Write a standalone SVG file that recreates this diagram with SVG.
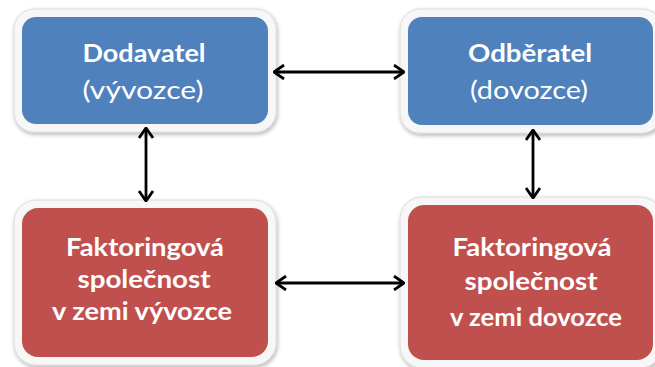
<svg xmlns="http://www.w3.org/2000/svg" width="655" height="367" viewBox="0 0 655 367">
  <style>
    .frame { fill: #f7f7f7; stroke: #dcdcdc; stroke-width: 1; filter: url(#shadow); }
    .blue { fill: #4f81bd; }
    .red { fill: #c0504d; }
    .label { font-family: Lato, "Open Sans", "Liberation Sans", sans-serif; fill: #ffffff; text-anchor: middle; font-size: 25px; }
    .bold { font-weight: bold; }
    .conn { stroke: #000000; stroke-width: 2.8; fill: none; marker-start: url(#head); marker-end: url(#head); }
  </style>
  <defs>
    <filter id="shadow" x="-10%" y="-10%" width="120%" height="130%">
      <feDropShadow dx="1" dy="2" stdDeviation="2" flood-color="#000000" flood-opacity="0.3"/>
    </filter>
    <marker id="head" viewBox="0 0 12 16" refX="11" refY="8" markerWidth="12" markerHeight="16" markerUnits="userSpaceOnUse" orient="auto-start-reverse">
      <path d="M1,1 L11,8 L1,15" fill="none" stroke="#000000" stroke-width="2.8" stroke-linejoin="miter"/>
    </marker>
  </defs>

  <!-- exporter -->
  <g id="dodavatel">
    <rect class="frame" x="14" y="9" width="262" height="123" rx="20"/>
    <rect class="blue" x="22" y="17" width="246" height="107" rx="14"/>
    <text class="label bold" x="144" y="62" textLength="123" lengthAdjust="spacingAndGlyphs">Dodavatel</text>
    <text class="label" x="143" y="99" textLength="121" lengthAdjust="spacingAndGlyphs">(vývozce)</text>
  </g>

  <!-- importer -->
  <g id="odberatel">
    <rect class="frame" x="400" y="9" width="262" height="124" rx="20"/>
    <rect class="blue" x="408" y="17" width="245" height="108" rx="14"/>
    <text class="label bold" x="530" y="62" textLength="124" lengthAdjust="spacingAndGlyphs">Odběratel</text>
    <text class="label" x="529" y="99" textLength="118" lengthAdjust="spacingAndGlyphs">(dovozce)</text>
  </g>

  <!-- factor in the exporter's country -->
  <g id="faktor-vyvozce">
    <rect class="frame" x="14" y="200" width="262" height="165" rx="22"/>
    <rect class="red" x="22" y="208" width="246" height="149" rx="16"/>
    <text class="label bold" x="145" y="256" textLength="158" lengthAdjust="spacingAndGlyphs">Faktoringová</text>
    <text class="label bold" x="144" y="288" textLength="133" lengthAdjust="spacingAndGlyphs">společnost</text>
    <text class="label bold" x="142" y="320" textLength="180" lengthAdjust="spacingAndGlyphs">v zemi vývozce</text>
  </g>

  <!-- factor in the importer's country -->
  <g id="faktor-dovozce">
    <rect class="frame" x="400" y="197" width="262" height="171" rx="22"/>
    <rect class="red" x="408" y="205" width="245" height="155" rx="16"/>
    <text class="label bold" x="532" y="256" textLength="159" lengthAdjust="spacingAndGlyphs">Faktoringová</text>
    <text class="label bold" x="531" y="290" textLength="133" lengthAdjust="spacingAndGlyphs">společnost</text>
    <text class="label bold" x="536" y="326" textLength="172" lengthAdjust="spacingAndGlyphs">v zemi dovozce</text>
  </g>

  <g id="connectors">
    <line class="conn" x1="274" y1="72" x2="404" y2="72"/>
    <line class="conn" x1="146" y1="128" x2="146" y2="201"/>
    <line class="conn" x1="533" y1="130" x2="533" y2="198"/>
    <line class="conn" x1="276" y1="283" x2="404" y2="283"/>
  </g>
</svg>
